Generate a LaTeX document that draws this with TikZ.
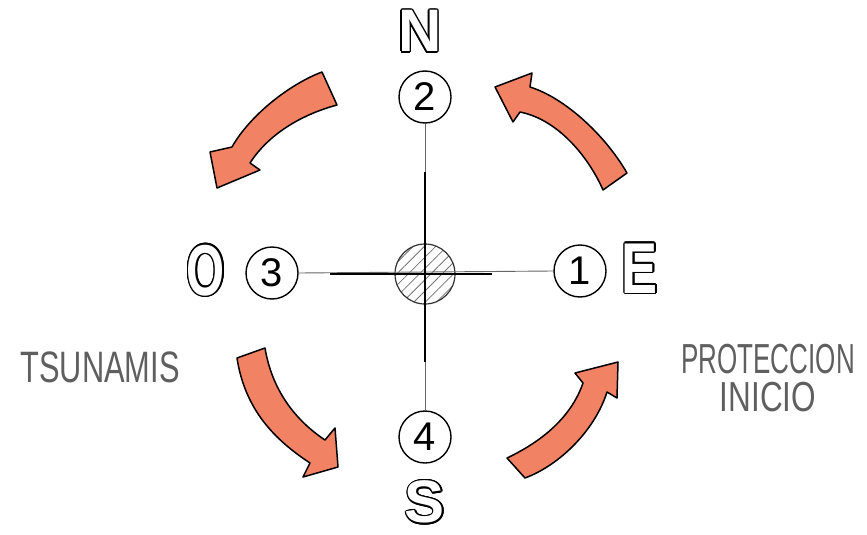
\documentclass[tikz,border=0pt]{standalone}
\usepackage{fontspec}
\setsansfont{Liberation Sans}
\usepackage{graphicx}
\usepackage{contour}
\contourlength{1.4pt}
\usetikzlibrary{patterns.meta}

\definecolor{coral}{RGB}{242,130,100}
\definecolor{pencil}{RGB}{95,95,95}

% hollow letters for the compass points
\newcommand{\hollow}[1]{\contour{black}{\textcolor{white}{#1}}}

\begin{document}
\begin{tikzpicture}[
    x=1pt, y=-1pt,
    marker/.style={circle, draw, line width=1.4pt, minimum size=52pt, inner sep=0pt, font=\sffamily\fontsize{40}{40}\selectfont},
    cardinal/.style={inner sep=0pt, font=\sffamily\bfseries\fontsize{60}{60}\selectfont},
    note/.style={text=pencil, font=\sffamily\fontsize{44}{40}\selectfont, align=center},
    thinline/.style={draw=black!60, line width=0.9pt},
    thickline/.style={line width=2.4pt},
    bigarrow/.style={fill=coral, draw=black, line width=1.5pt, line join=round}
]
    \useasboundingbox (0,0) rectangle (867,535);

    % centre and the four numbered points
    \node[circle, draw=black!80, line width=1.2pt, minimum size=60pt, inner sep=0pt,
          pattern={Lines[angle=45, distance=8pt, line width=0.8pt]}, pattern color=black!55] (hub) at (425,274) {};
    \node[marker] (m1) at (580,271) {1};
    \node[marker] (m2) at (425,97) {2};
    \node[marker] (m3) at (272,273) {3};
    \node[marker] (m4) at (425,437) {4};

    % compass letters
    \node[cardinal] (north) at (420,32) {\hollow{N}};
    \node[cardinal] (south) at (425,503) {\hollow{S}};
    \node[cardinal, font=\sffamily\bfseries\fontsize{72}{72}\selectfont] (east) at (640,269) {\hollow{\scalebox{0.75}[1]{E}}};
    \node[cardinal, font=\sffamily\bfseries\fontsize{72}{72}\selectfont] (west) at (206,271) {\hollow{\scalebox{0.68}[1]{O}}};

    % side notes
    \node[note] (tsunami) at (100,367) {\scalebox{0.7}[1]{TSUNAMIS}};
    \node[note, font=\sffamily\fontsize{42}{38}\selectfont] (start) at (768,378)
        {\scalebox{0.62}[1]{PROTECCION}\\\scalebox{0.75}[1]{INICIO}};

    % cross
    \coordinate (vtop) at (425,172);
    \coordinate (vbot) at (425,362);
    \coordinate (hleft) at (330,274);
    \coordinate (hright) at (492,274);
    \draw[thinline] (m2.south) -- (m4.north);
    \draw[thinline] (m3.east) -- (m1.west);
    \draw[thickline] (vtop) -- (vbot);
    \draw[thickline] (hleft) -- (hright);

    % turning arrows
    \draw[bigarrow] (322,72) .. controls (290,84) and (250,115) .. (232,147)
        -- (210,152) -- (217,188) -- (260,170) -- (250,163)
        .. controls (268,135) and (300,115) .. (337,105) -- cycle;
    \draw[bigarrow] (495,87) -- (532,73) -- (530,87)
        .. controls (565,98) and (605,135) .. (627,173) -- (603,190)
        .. controls (590,160) and (560,120) .. (520,112) -- (513,122) -- cycle;
    \draw[bigarrow] (237,358) -- (265,348)
        .. controls (272,390) and (295,420) .. (325,440) -- (335,428)
        -- (338,467) -- (303,477) -- (310,463)
        .. controls (275,440) and (245,410) .. (237,358) -- cycle;
    \draw[bigarrow] (507,458) .. controls (545,440) and (572,415) .. (583,383)
        -- (575,373) -- (618,362) -- (617,398) -- (607,392)
        .. controls (595,430) and (560,465) .. (525,478) -- cycle;
\end{tikzpicture}
\end{document}
